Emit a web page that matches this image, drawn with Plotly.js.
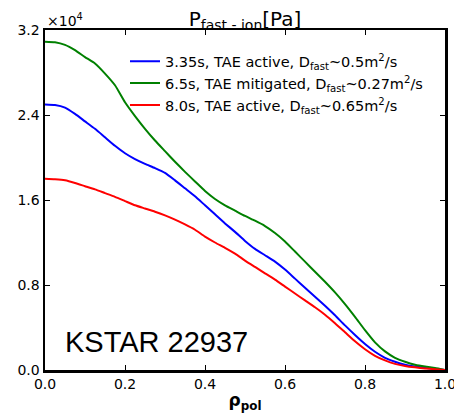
<!DOCTYPE html>
<html>
<head>
<meta charset="utf-8">
<script src="https://cdn.plot.ly/plotly-3.0.1.min.js"></script>
<style>html,body{margin:0;padding:0;background:#fff;}#chart{width:454px;height:413px;}</style>
</head>
<body>
<div id="chart"></div>
<script>
// rho_pol grid
const rho = [0.000,0.025,0.050,0.075,0.100,0.125,0.150,0.175,0.200,0.225,0.250,0.275,0.300,0.325,0.350,0.375,0.400,0.425,0.450,0.475,0.500,0.525,0.550,0.575,0.600,0.625,0.650,0.675,0.700,0.725,0.750,0.775,0.800,0.825,0.850,0.875,0.900,0.925,0.950,0.975,1.000];
// fast-ion pressure, units of 1e4 Pa
const p335 = [2.50,2.495,2.47,2.41,2.34,2.27,2.19,2.11,2.04,1.985,1.94,1.90,1.855,1.785,1.71,1.635,1.55,1.465,1.38,1.30,1.215,1.14,1.08,1.02,0.945,0.86,0.775,0.69,0.605,0.515,0.42,0.33,0.245,0.172,0.115,0.078,0.05,0.032,0.02,0.01,0.0];
const p65  = [3.09,3.085,3.06,3.01,2.945,2.885,2.79,2.68,2.52,2.39,2.27,2.16,2.06,1.96,1.865,1.775,1.685,1.61,1.55,1.50,1.45,1.405,1.355,1.29,1.21,1.115,1.02,0.925,0.83,0.73,0.62,0.50,0.375,0.26,0.175,0.115,0.078,0.05,0.032,0.018,0.0];
const p80  = [1.80,1.795,1.785,1.76,1.73,1.70,1.665,1.63,1.59,1.55,1.52,1.49,1.455,1.415,1.37,1.32,1.255,1.20,1.15,1.095,1.03,0.97,0.91,0.85,0.785,0.72,0.655,0.59,0.52,0.44,0.355,0.27,0.195,0.133,0.09,0.058,0.038,0.025,0.015,0.007,0.0];
const seriesNames = [
  "3.35s, TAE active, D<sub>fast</sub>~0.5m<sup>2</sup>/s",
  "6.5s, TAE mitigated, D<sub>fast</sub>~0.27m<sup>2</sup>/s",
  "8.0s, TAE active, D<sub>fast</sub>~0.65m<sup>2</sup>/s"
];
const xTicks = [0.0,0.2,0.4,0.6,0.8,1.0];
const xTickText = ["0.0","0.2","0.4","0.6","0.8","1.0"];
const yTicks = [0.0,0.8,1.6,2.4,3.2];
const yTickText = ["0.0","0.8","1.6","2.4","3.2"];

const colors = ["#0000ff","#008000","#ff0000"];
const ys = [p335,p65,p80];
const traces = ys.map((y,i)=>({
  x: rho, y: y, type:'scatter', mode:'lines', name: seriesNames[i],
  line:{color:colors[i], width:2, shape:'spline', smoothing:0.5}
}));

const tickFont = {family:'DejaVu Sans, sans-serif', size:14, color:'#000'};
const layout = {
  width:454, height:413,
  margin:{l:45, r:9, t:30, b:43},
  paper_bgcolor:'#fff', plot_bgcolor:'#fff',
  showlegend:true,
  legend:{x:0.2, xanchor:'left', y:0.955, yanchor:'top', bgcolor:'rgba(0,0,0,0)',
          font:{family:'DejaVu Sans, sans-serif', size:14.5, color:'#000'},
          tracegroupgap:0, itemwidth:30},
  title:{text:'P<sub>fast - ion</sub>[Pa]', x:0.5, xref:'paper', xanchor:'center',
         y:1-19/413, yref:'container', yanchor:'middle',
         font:{family:'DejaVu Sans, sans-serif', size:20, color:'#000'}},
  xaxis:{range:[0,1], tickvals:xTicks, ticktext:xTickText, ticks:'inside', ticklen:5, tickwidth:1,
         tickcolor:'#000', showline:true, linecolor:'#000', linewidth:2.5, mirror:'allticks',
         showgrid:false, zeroline:false, tickfont:tickFont, ticklabeloverflow:'allow',
         title:{text:'<b>ρ<sub>pol</sub></b>', standoff:3, font:{family:'DejaVu Sans, sans-serif', size:17, color:'#000'}}},
  yaxis:{range:[0,3.2], tickvals:yTicks, ticktext:yTickText, ticks:'inside', ticklen:5, tickwidth:1,
         tickcolor:'#000', showline:true, linecolor:'#000', linewidth:2.5, mirror:'allticks',
         showgrid:false, zeroline:false, tickfont:tickFont, ticklabeloverflow:'allow'},
  annotations:[
    {text:'×10<sup>4</sup>', xref:'paper', yref:'paper', x:0, y:1, xanchor:'left', yanchor:'bottom',
     yshift:-1, showarrow:false, font:{family:'DejaVu Sans, sans-serif', size:14, color:'#000'}},
    {text:'KSTAR 22937', xref:'paper', yref:'paper', x:0.045, y:0.03, xanchor:'left', yanchor:'bottom',
     showarrow:false, font:{family:'Liberation Sans, Arial, sans-serif', size:29, color:'#000'}}
  ]
};
Plotly.newPlot('chart', traces, layout, {displayModeBar:false, staticPlot:true});
</script>
</body>
</html>
